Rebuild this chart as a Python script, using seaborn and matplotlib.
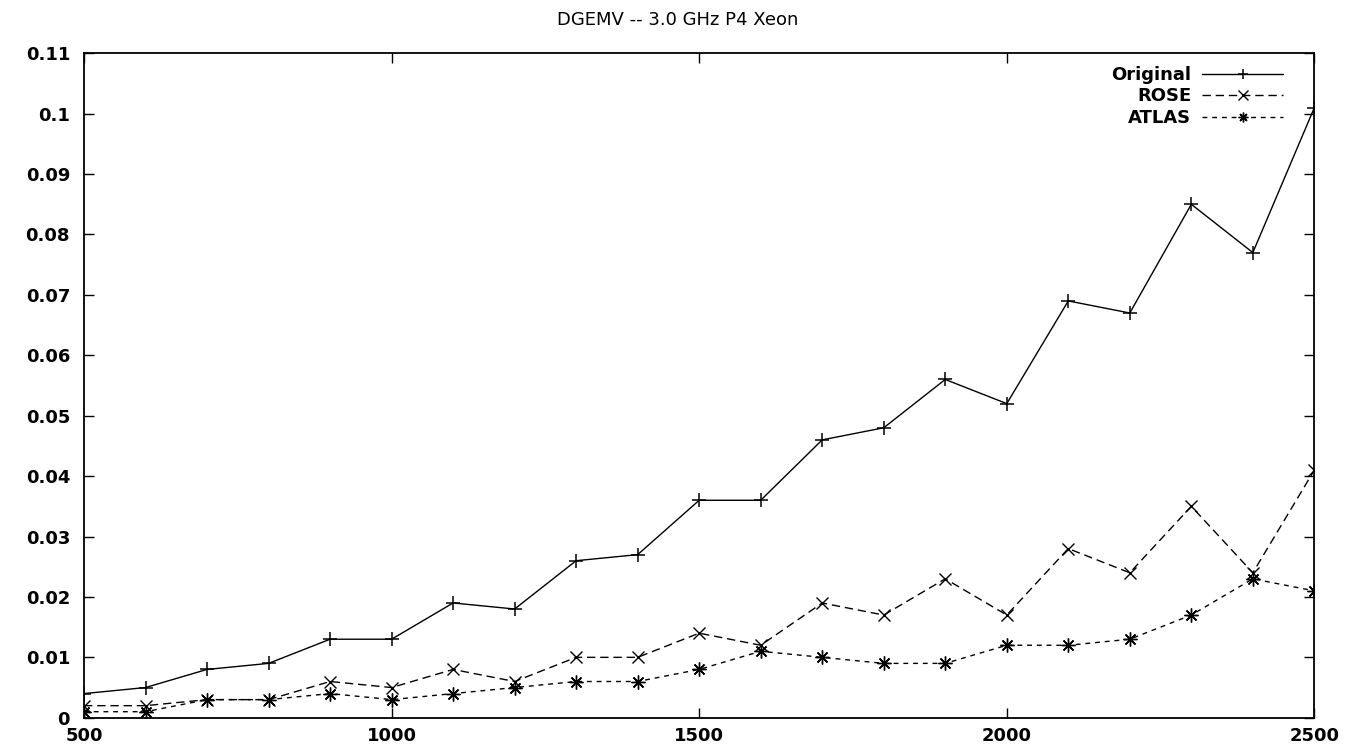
import matplotlib
matplotlib.use('Agg')
import matplotlib.pyplot as plt
import matplotlib.ticker as mticker
import seaborn as sns

# Data
sizes = [500, 600, 700, 800, 900, 1000, 1100, 1200, 1300, 1400, 1500,
         1600, 1700, 1800, 1900, 2000, 2100, 2200, 2300, 2400, 2500]
original = [0.004, 0.005, 0.008, 0.009, 0.013, 0.013, 0.019, 0.018, 0.026, 0.027, 0.036,
            0.036, 0.046, 0.048, 0.056, 0.052, 0.069, 0.067, 0.085, 0.077, 0.101]
rose = [0.002, 0.002, 0.003, 0.003, 0.006, 0.005, 0.008, 0.006, 0.010, 0.010, 0.014,
        0.012, 0.019, 0.017, 0.023, 0.017, 0.028, 0.024, 0.035, 0.024, 0.041]
atlas = [0.001, 0.001, 0.003, 0.003, 0.004, 0.003, 0.004, 0.005, 0.006, 0.006, 0.008,
         0.011, 0.010, 0.009, 0.009, 0.012, 0.012, 0.013, 0.017, 0.023, 0.021]

x_ticks = [500, 1000, 1500, 2000, 2500]
y_ticks = [0, 0.01, 0.02, 0.03, 0.04, 0.05, 0.06, 0.07, 0.08, 0.09, 0.1, 0.11]

sns.set_style('ticks')
plt.rcParams['font.family'] = ['DejaVu Sans']
plt.rcParams['text.color'] = 'black'

fig = plt.figure(figsize=(13.55, 7.5), dpi=100)
ax = fig.add_axes([0.062, 0.043, 0.908, 0.886])

style = dict(ax=ax, color='black', linewidth=1, markeredgecolor='black')
sns.lineplot(x=sizes, y=original, marker='+', markersize=10,
             markeredgewidth=1.1, label='Original', **style)
sns.lineplot(x=sizes, y=rose, marker='x', markersize=8,
             markeredgewidth=1.0, label='ROSE', **style)
sns.lineplot(x=sizes, y=atlas, marker=(8, 2, 0), markersize=10,
             markeredgewidth=1.0, label='ATLAS', **style)

# gnuplot-like dash patterns
ax.lines[1].set_dashes((6, 3.5))
ax.lines[2].set_dashes((3.5, 3.5))

ax.set_xlim(500, 2500)
ax.set_ylim(0, 0.11)
ax.set_xticks(x_ticks)
ax.set_yticks(y_ticks)
ax.yaxis.set_major_formatter(mticker.FuncFormatter(lambda v, p: f'{v:g}'))

for s in ax.spines.values():
    s.set_visible(True)
    s.set_linewidth(1.3)
    s.set_color('black')
ax.tick_params(direction='in', length=7, width=1, top=True, right=True,
               labelsize=13, colors='black')
ax.tick_params(axis='y', pad=10)
ax.tick_params(axis='x', pad=7)
for t in ax.get_xticklabels() + ax.get_yticklabels():
    t.set_fontweight('bold')

leg = ax.legend(loc='upper right', frameon=False, markerfirst=False,
                prop={'size': 13, 'weight': 'bold'}, handlelength=4.5,
                handletextpad=0.6, labelspacing=0.2, borderaxespad=0.3,
                bbox_to_anchor=(0.985, 1.0))
for t in leg.get_texts():
    t.set_color('black')
for h in leg.get_lines():
    h.set_markersize(7)

fig.suptitle('DGEMV -- 3.0 GHz P4 Xeon', y=0.985, fontsize=13, color='black')

fig.savefig('out.png', dpi=100)
